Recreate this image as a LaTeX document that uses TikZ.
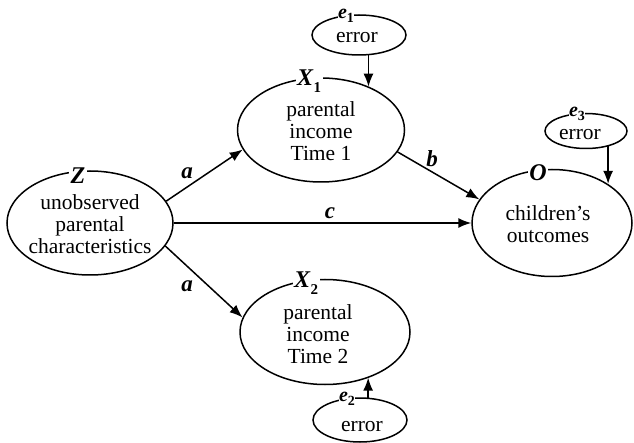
\documentclass[tikz,border=0pt]{standalone}
\usepackage{fontspec}
\setmainfont{Liberation Serif}
\usetikzlibrary{shapes.geometric,arrows.meta}
\newcommand{\bi}[1]{\textbf{\textit{#1}}}
\newcommand{\bsub}[1]{\raisebox{-0.28em}{\fontsize{15}{15}\selectfont\textbf{#1}}}
\newcommand{\esub}[1]{\raisebox{-0.18em}{\fontsize{14}{14}\selectfont\textbf{#1}}}
\begin{document}
\begin{tikzpicture}[x=1pt,y=-1pt,
  var/.style={ellipse,draw,line width=1.5pt,inner sep=0pt},
  lab/.style={fill=white,inner sep=1.5pt,font=\fontsize{24}{24}\selectfont},
  elab/.style={fill=white,inner sep=0.5pt,font=\fontsize{20}{20}\selectfont},
  txt/.style={align=center,inner sep=0pt,font=\fontsize{21.5}{22}\selectfont},
  plab/.style={inner sep=0pt,font=\fontsize{23}{23}\selectfont},
  arr/.style={-{Latex[length=13pt,width=10pt]},line width=1.5pt},
]
\useasboundingbox (0,0) rectangle (634,443);

% ellipses
\node[var, minimum width=166pt, minimum height=104pt] (Z) at (90,223) {};
\node[var, minimum width=167pt, minimum height=104pt] (X1) at (321,130) {};
\node[var, minimum width=170pt, minimum height=105pt] (X2) at (325,332) {};
\node[var, minimum width=160pt, minimum height=107pt] (O) at (552,223) {};
\node[var, minimum width=94pt, minimum height=40pt] (e1) at (359,35) {};
\node[var, minimum width=82pt, minimum height=35pt] (e3) at (586,131) {};
\node[var, minimum width=94pt, minimum height=44pt] (e2) at (360,420) {};

% texts
\node[txt] (Zt) at (90,224) {unobserved\\parental\\characteristics};
\node[txt] (X1t) at (321,131) {parental\\income\\Time 1};
\node[txt] (X2t) at (318,334) {parental\\income\\Time 2};
\node[txt] (Ot) at (548,224) {children’s\\outcomes};
\node[txt] (e1t) at (357,38) {error};
\node[txt] (e3t) at (580,135) {error};
\node[txt] (e2t) at (362,427) {error};

% variable labels
\node[lab] (Zl) at (78,176) {\bi{Z}};
\node[lab] (X1l) at (309,81) {\bi{X}\bsub{1}};
\node[lab] (X2l) at (306,283) {\bi{X}\bsub{2}};
\node[lab] (Ol) at (538,173) {\bi{O}};
\node[elab] (e1l) at (346,16) {\bi{e}\esub{1}};
\node[elab] (e3l) at (577,114) {\bi{e}\esub{3}};
\node[elab] (e2l) at (347,399) {\bi{e}\esub{2}};

% arrows
\draw[arr] (Z.16) -- (X1.194);
\draw[arr] (Z.-17) -- (X2.170);
\draw[arr] (Z.east) -- (O.west);
\draw[arr] (X1.-16) -- (O.162);
\draw[arr] (e1.-65) -- (e1.-65 |- X1.42);
\draw[arr] (e3.-35) -- (e3.-35 |- O.35);
\draw[arr] (e2.70) -- (e2.70 |- X2.-46);

% path labels
\node[plab] (la1) at (187,173) {\bi{a}};
\node[plab] (la2) at (187,286) {\bi{a}};
\node[plab] (lc) at (330,213) {\bi{c}};
\node[plab] (lb) at (432,159) {\bi{b}};
\end{tikzpicture}
\end{document}
